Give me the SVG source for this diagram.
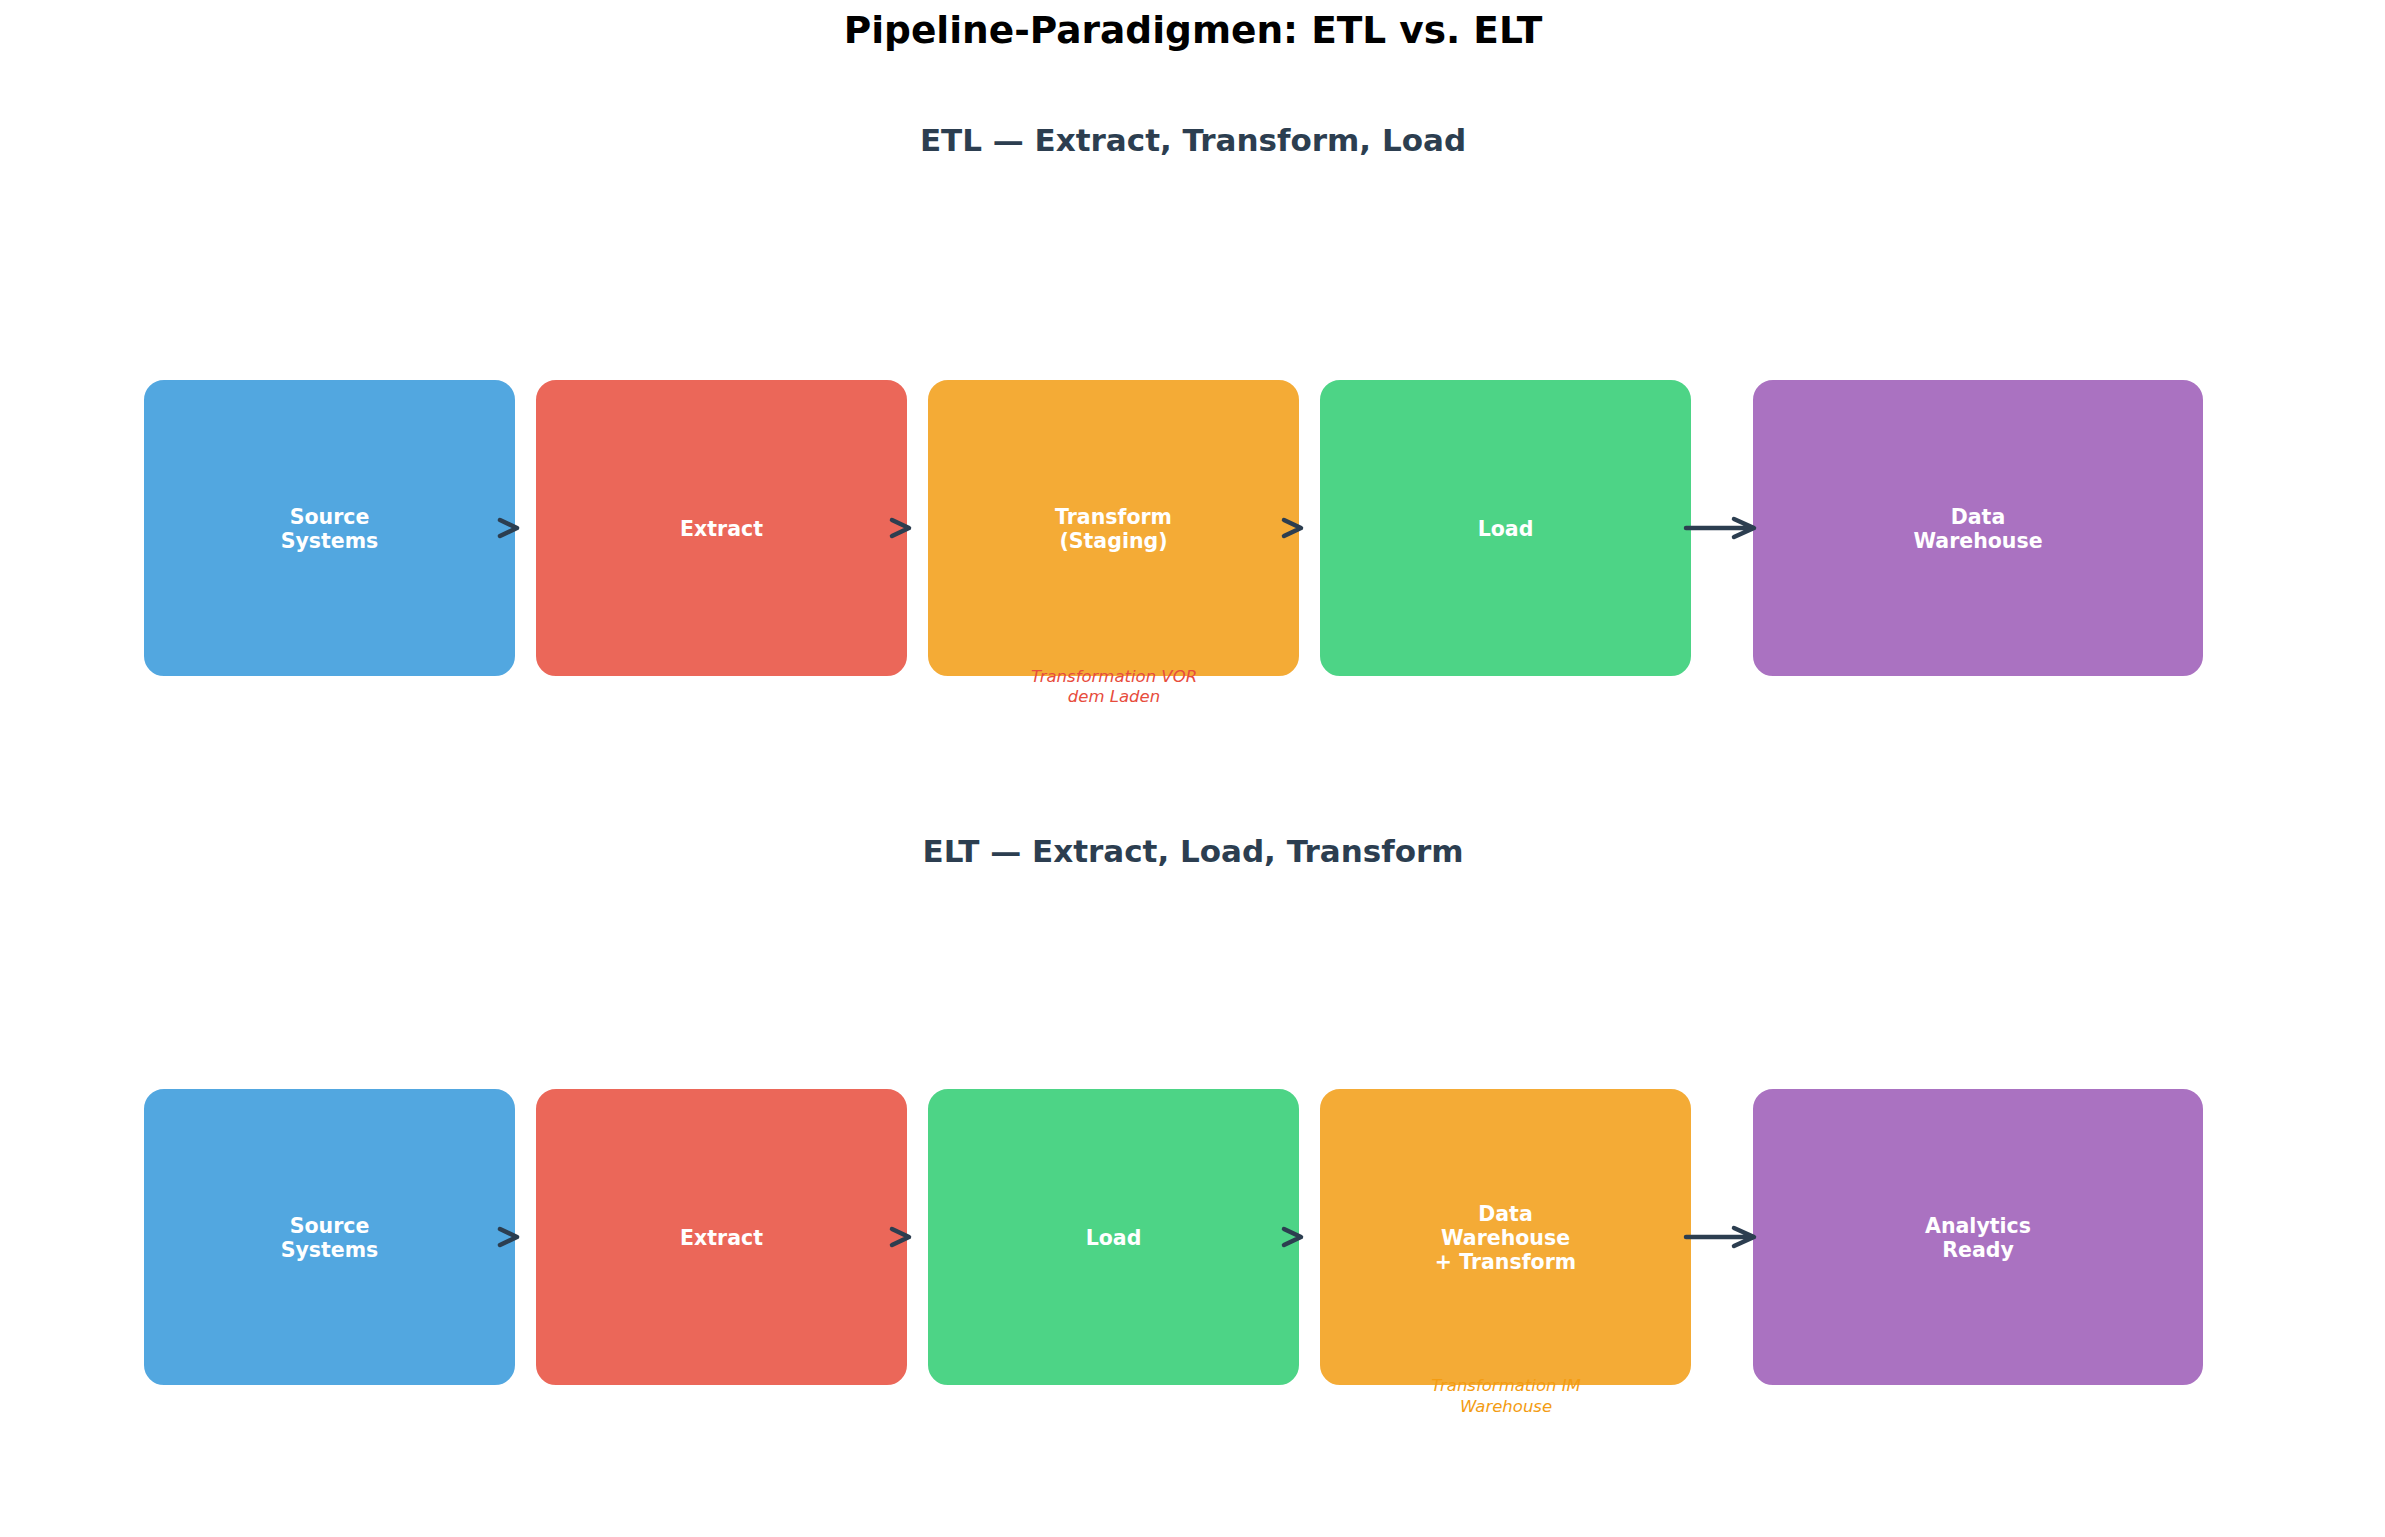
<svg xmlns="http://www.w3.org/2000/svg" width="2385" height="1537" viewBox="0 0 2385 1537">
<style>
.title{font-family:"DejaVu Sans","Liberation Sans",sans-serif;font-weight:bold;font-size:37.5px;fill:#000;text-anchor:middle}
.sub{font-family:"DejaVu Sans","Liberation Sans",sans-serif;font-weight:bold;font-size:31px;fill:#2c3e50;text-anchor:middle}
.box{stroke:#ffffff;stroke-width:2}
.lbl{font-family:"DejaVu Sans","Liberation Sans",sans-serif;font-weight:bold;font-size:20.5px;fill:#ffffff;text-anchor:middle}
.note{font-family:"DejaVu Sans","Liberation Sans",sans-serif;font-style:italic;font-size:16.5px;text-anchor:middle}
.arr{fill:none;stroke:#2c3e50;stroke-width:4.5;stroke-linecap:round;stroke-linejoin:round}
.blue{fill:#52a7e0}.red{fill:#eb6759}.orange{fill:#f4ab36}.green{fill:#4dd486}.purple{fill:#aa72c1}
</style>
<rect width="2385" height="1537" fill="#ffffff"/>
<text class="title" x="1193" y="43">Pipeline-Paradigmen: ETL vs. ELT</text>
<text class="sub" x="1193" y="151">ETL — Extract, Transform, Load</text>
<text class="sub" x="1193" y="862">ELT — Extract, Load, Transform</text>

<g id="etl-source"><rect class="box blue" x="143" y="379" width="373" height="298" rx="21"/><text class="lbl" x="329.5" y="523.5">Source</text><text class="lbl" x="329.5" y="547.5">Systems</text></g>
<g id="etl-extract"><rect class="box red" x="535" y="379" width="373" height="298" rx="21"/><text class="lbl" x="721.5" y="535.5">Extract</text></g>
<g id="etl-transform"><rect class="box orange" x="927" y="379" width="373" height="298" rx="21"/><text class="lbl" x="1113.5" y="523.5">Transform</text><text class="lbl" x="1113.5" y="547.5">(Staging)</text></g>
<g id="etl-load"><rect class="box green" x="1319" y="379" width="373" height="298" rx="21"/><text class="lbl" x="1505.5" y="535.5">Load</text></g>
<g id="etl-dwh"><rect class="box purple" x="1752" y="379" width="452" height="298" rx="21"/><text class="lbl" x="1978" y="523.5">Data</text><text class="lbl" x="1978" y="547.5">Warehouse</text></g>

<g id="elt-source"><rect class="box blue" x="143" y="1088" width="373" height="298" rx="21"/><text class="lbl" x="329.5" y="1232.5">Source</text><text class="lbl" x="329.5" y="1256.5">Systems</text></g>
<g id="elt-extract"><rect class="box red" x="535" y="1088" width="373" height="298" rx="21"/><text class="lbl" x="721.5" y="1244.5">Extract</text></g>
<g id="elt-load"><rect class="box green" x="927" y="1088" width="373" height="298" rx="21"/><text class="lbl" x="1113.5" y="1244.5">Load</text></g>
<g id="elt-dwh"><rect class="box orange" x="1319" y="1088" width="373" height="298" rx="21"/><text class="lbl" x="1505.5" y="1220.5">Data</text><text class="lbl" x="1505.5" y="1244.5">Warehouse</text><text class="lbl" x="1505.5" y="1268.5">+ Transform</text></g>
<g id="elt-analytics"><rect class="box purple" x="1752" y="1088" width="452" height="298" rx="21"/><text class="lbl" x="1978" y="1232.5">Analytics</text><text class="lbl" x="1978" y="1256.5">Ready</text></g>

<g id="connectors">
<path class="arr" d="M500,520 L517,528 L500,536"/>
<path class="arr" d="M892,520 L909,528 L892,536"/>
<path class="arr" d="M1284,520 L1301,528 L1284,536"/>
<path class="arr" d="M1686,528 L1752,528 M1734,519 L1754,528 L1734,537"/>
<path class="arr" d="M500,1229 L517,1237 L500,1245"/>
<path class="arr" d="M892,1229 L909,1237 L892,1245"/>
<path class="arr" d="M1284,1229 L1301,1237 L1284,1245"/>
<path class="arr" d="M1686,1237 L1752,1237 M1734,1228 L1754,1237 L1734,1246"/>
</g>

<g id="notes">
<text class="note" x="1114" y="682" fill="#e74c3c">Transformation VOR</text>
<text class="note" x="1114" y="702" fill="#e74c3c">dem Laden</text>
<text class="note" x="1506" y="1391" fill="#f39c12">Transformation IM</text>
<text class="note" x="1506" y="1412" fill="#f39c12">Warehouse</text>
</g>
</svg>
